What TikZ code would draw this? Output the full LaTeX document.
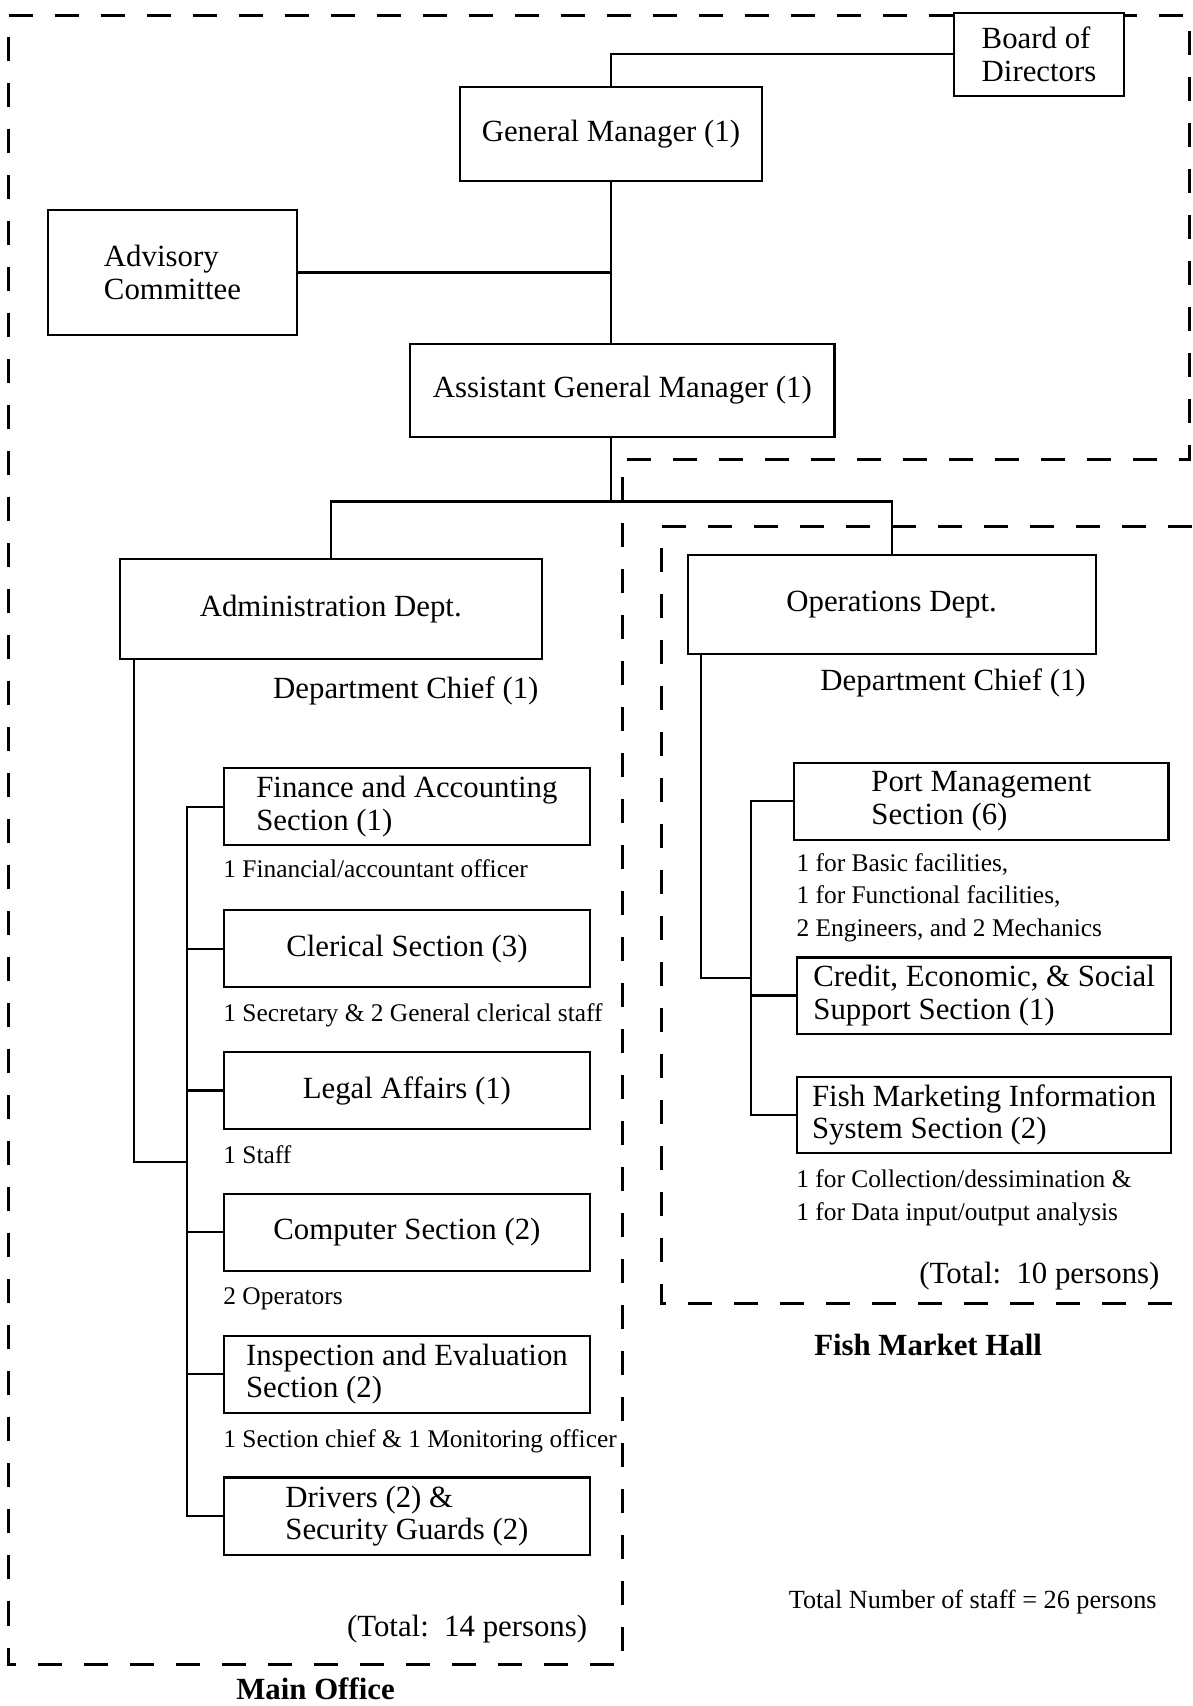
\documentclass[tikz,border=0pt]{standalone}
\usepackage{fontspec}
\setmainfont{Liberation Serif}
\usepackage{tikz}
\usetikzlibrary{positioning}

\def\px{0.5438pt}
\def\sgap{31.2pt}
\newcommand{\boxfont}{\fontsize{15.4}{16.2}\selectfont}
\newcommand{\notefont}{\fontsize{12.7}{16.3}\selectfont}

\begin{document}
\begin{tikzpicture}[x=\px, y=-\px,
    orgbox/.style={draw, line width=1.1pt, fill=white, font=\boxfont,
        align=left, inner sep=0pt},
    admsec/.style={orgbox, minimum width=336*\px, minimum height=71*\px},
    opssec/.style={orgbox, minimum width=344*\px, minimum height=71*\px},
    staffnote/.style={font=\notefont, align=left, inner sep=0pt},
    placename/.style={font=\boxfont\bfseries, inner sep=0pt},
    officeline/.style={line width=1.4pt, dash pattern=on 12pt off 11pt}]

    \useasboundingbox (0,0) rectangle (1096,1568);

    % Main Office and Fish Market Hall
    \draw[officeline] (8,14) -- (1093,14) -- (1093,422) -- (572,422)
        -- (572,1530) -- (8,1530) -- cycle;
    \draw[officeline] (1096,484) -- (608,484) -- (608,1198) -- (1096,1198);

    % Top management
    \node (bod) [orgbox, minimum width=156*\px, minimum height=76*\px]
        at (955,50) {Board of\\Directors};
    \node (gm) [orgbox, minimum width=277*\px, minimum height=86*\px]
        at (561.5,123) {General Manager (1)};
    \node (adv) [orgbox, minimum width=229*\px, minimum height=115*\px]
        at (158.5,250.5) {Advisory\\Committee};
    \node (agm) [orgbox, minimum width=390*\px, minimum height=86*\px]
        at (572,359) {Assistant General Manager (1)};

    % Departments
    \node (adm) [orgbox, minimum width=388*\px, minimum height=92*\px]
        at (304,560) {Administration Dept.};
    \node (ops) [orgbox, minimum width=375*\px, minimum height=91*\px]
        at (819.5,555.5) {Operations Dept.};
    \node (admchief) [staffnote, font=\boxfont] at (373,635)
        {Department Chief (1)};
    \node (opschief) [staffnote, font=\boxfont] at (876,628)
        {Department Chief (1)};

    % Administration sections
    \node (fin) [admsec] at (374,741.5) {Finance and Accounting\\Section (1)};
    \node (cler) [admsec, below=\sgap of fin] {Clerical Section (3)};
    \node (legal) [admsec, below=\sgap of cler] {Legal Affairs (1)};
    \node (comp) [admsec, below=\sgap of legal] {Computer Section (2)};
    \node (insp) [admsec, below=\sgap of comp]
        {Inspection and Evaluation\\Section (2)};
    \node (drv) [admsec, below=\sgap of insp]
        {Drivers (2) \&\\Security Guards (2)};

    \node (finnote) [staffnote, below right=6.5pt and 0pt of fin.south west]
        {1 Financial/accountant officer};
    \node (clernote) [staffnote, below right=7.5pt and 0pt of cler.south west]
        {1 Secretary \& 2 General clerical staff};
    \node (legalnote) [staffnote, below right=7.5pt and 0pt of legal.south west]
        {1 Staff};
    \node (compnote) [staffnote, below right=7.5pt and 0pt of comp.south west]
        {2 Operators};
    \node (inspnote) [staffnote, below right=7.5pt and 0pt of insp.south west]
        {1 Section chief \& 1 Monitoring officer};

    % Operations sections
    \node (port) [opssec] at (902,736.5) {Port Management\\Section (6)};
    \node (credit) [opssec, minimum height=70*\px] at (904.5,915)
        {Credit, Economic, \& Social\\Support Section (1)};
    \node (fmis) [opssec, minimum height=70*\px] at (904.5,1025)
        {Fish Marketing Information\\System Section (2)};

    \node (portnote) [staffnote, below right=6pt and 1.5pt of port.south west]
        {1 for Basic facilities,\\1 for Functional facilities,\\2 Engineers, and 2 Mechanics};
    \node (fmisnote) [staffnote, below right=7.5pt and 0pt of fmis.south west]
        {1 for Collection/dessimination \&\\1 for Data input/output analysis};

    % Totals and place names
    \node (admtotal) [staffnote, font=\boxfont, anchor=east] at (540,1497)
        {(Total:~~14 persons)};
    \node (opstotal) [staffnote, font=\boxfont, anchor=east] at (1066,1173)
        {(Total:~~10 persons)};
    \node (mainoffice) [placename] at (290,1552) {Main Office};
    \node (hall) [placename] at (853,1236) {Fish Market Hall};
    \node (grand) [staffnote, font=\fontsize{13.1}{15}\selectfont]
        at (894,1472) {Total Number of staff = 26 persons};

    \coordinate (admjoin) at (172,1068);
    \coordinate (opsjoin) at (690,899);

    \begin{scope}[line width=1.1pt]
        \draw (gm.north) |- (bod.west);
        \draw (gm.south) -- (gm.south |- agm.north);
        \draw (adv.east) -- (adv.east -| gm.south);
        \draw (gm.south |- agm.south) -- ++(0,58) coordinate (split);
        \draw (adm.north) |- (split) -| (ops.north);

        \draw ([xshift=14*\px]adm.south west) |- (admjoin);
        \draw (fin.west) -| (admjoin |- drv.west) -- (drv.west);
        \foreach \s in {cler,legal,comp,insp}
        \draw (\s.west) -- (\s.west -| admjoin);

        \draw ([xshift=13*\px]ops.south west) |- (opsjoin);
        \draw (port.west) -| (opsjoin |- fmis.west) -- (fmis.west);
        \draw (credit.west) -- (credit.west -| opsjoin);
    \end{scope}

\end{tikzpicture}
\end{document}
